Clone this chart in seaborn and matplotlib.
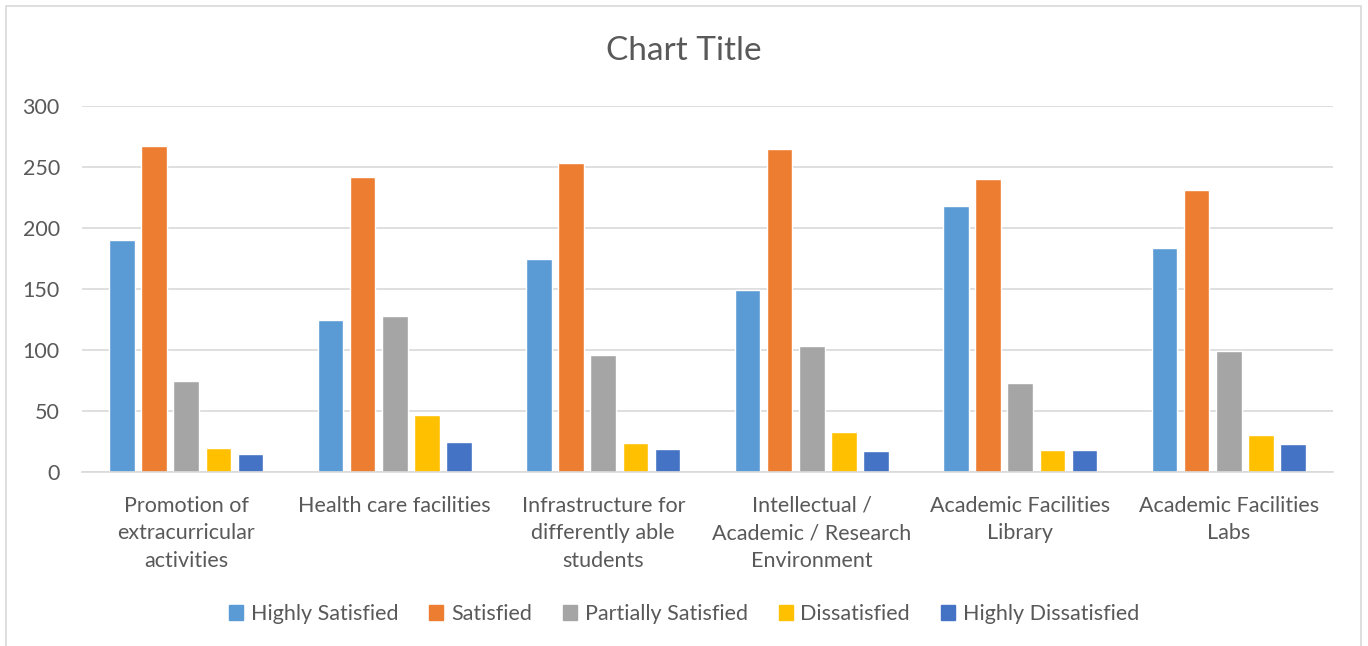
import matplotlib
matplotlib.use("Agg")
import matplotlib.pyplot as plt
import matplotlib.patches as mpatches
import seaborn as sns
import pandas as pd

CATEGORIES = [
    "Promotion of\nextracurricular\nactivities",
    "Health care facilities",
    "Infrastructure for\ndifferently able\nstudents",
    "Intellectual /\nAcademic / Research\nEnvironment",
    "Academic Facilities\nLibrary",
    "Academic Facilities\nLabs",
]
SERIES = ["Highly Satisfied", "Satisfied", "Partially Satisfied",
          "Dissatisfied", "Highly Dissatisfied"]

highly_satisfied = [190, 125, 175, 149, 218, 184]
satisfied = [267, 242, 253, 265, 240, 231]
partially_satisfied = [75, 128, 96, 103, 73, 99]
dissatisfied = [20, 47, 24, 33, 18, 30]
highly_dissatisfied = [15, 25, 19, 17, 18, 23]

COLORS = ["#5B9BD5", "#ED7D31", "#A5A5A5", "#FFC000", "#4472C4"]

rows = []
for name, vals in zip(SERIES, [highly_satisfied, satisfied, partially_satisfied,
                               dissatisfied, highly_dissatisfied]):
    for cat, v in zip(CATEGORIES, vals):
        rows.append({"category": cat, "series": name, "value": v})
df = pd.DataFrame(rows)

sns.set_theme(style="white")
plt.rcParams["font.family"] = ["Lato", "DejaVu Sans"]
TXT = "#595959"
GRID = "#D9D9D9"

fig = plt.figure(figsize=(13.68, 6.46), dpi=100)
ax = fig.add_axes([82 / 1368, 1 - 472 / 646, (1333 - 82) / 1368, (472 - 106) / 646])

sns.barplot(data=df, x="category", y="value", hue="series", hue_order=SERIES,
            order=CATEGORIES, palette=COLORS, width=0.77, gap=0.2,
            saturation=1, ax=ax, legend=True)

ax.set_ylim(0, 300)
ax.set_yticks(range(0, 301, 50))
ax.set_xlim(-0.5, len(CATEGORIES) - 0.5)
ax.yaxis.grid(True, color=GRID, linewidth=1.2)
ax.set_axisbelow(True)
for s in ["top", "right", "left"]:
    ax.spines[s].set_visible(False)
ax.spines["bottom"].set_color(GRID)
ax.spines["bottom"].set_linewidth(1.2)
ax.tick_params(axis="both", length=0, colors=TXT, labelsize=15.5)
ax.tick_params(axis="x", pad=17)
ax.tick_params(axis="y", pad=16)
for lbl in ax.get_xticklabels():
    lbl.set_linespacing(1.48)
ax.set_xlabel("")
ax.set_ylabel("")

fig.text(0.5, 1 - 51 / 646, "Chart Title", ha="center", va="center",
         fontsize=24, color=TXT)

handles = [mpatches.Patch(color=c, label=s) for c, s in zip(COLORS, SERIES)]
ax.get_legend().remove()
fig.legend(handles=handles, loc="center", bbox_to_anchor=(0.5, 1 - 614 / 646),
           ncol=5, frameon=False, fontsize=15.5, handlelength=0.65, handleheight=0.65,
           handletextpad=0.35, columnspacing=1.45, labelcolor=TXT)

fig.patches.append(mpatches.Rectangle((6 / 1368, -0.05), (1361 - 6) / 1368, 1.05 - 6 / 646,
                                      transform=fig.transFigure, fill=False,
                                      edgecolor=GRID, linewidth=1.2))

fig.savefig("out.png", dpi=100, facecolor="white")
